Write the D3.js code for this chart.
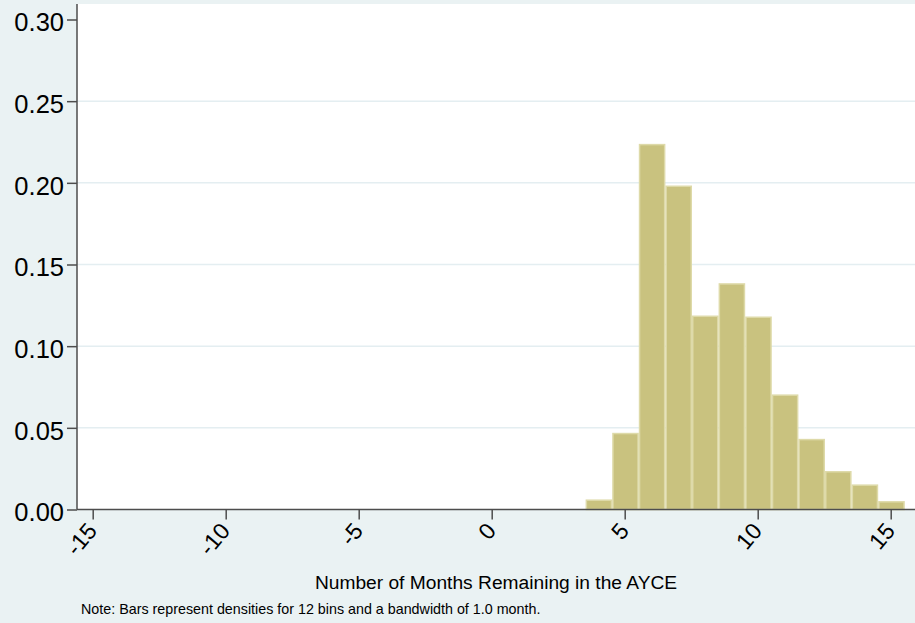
<!DOCTYPE html>
<html>
<head>
<meta charset="utf-8">
<script src="https://cdn.jsdelivr.net/npm/d3@7"></script>
<style>
  html, body { margin: 0; padding: 0; background: #eaf2f3; }
  svg { display: block; font-family: "Liberation Sans", Arial, sans-serif; }
</style>
</head>
<body>
<svg id="chart" width="915" height="623"></svg>
<script>
// ---- data ----
const binStart = 3.53;        // left edge of first bin (months)
const binWidth = 1.0;         // bandwidth (months)
const densities = [0.0057, 0.0465, 0.2234, 0.1979, 0.1183, 0.1381, 0.1177, 0.0700, 0.0428, 0.0231, 0.0149, 0.0047];
const xTicks = [-15, -10, -5, 0, 5, 10, 15];
const yTicks = [0, 0.05, 0.10, 0.15, 0.20, 0.25, 0.30];
const xTitle = "Number of Months Remaining in the AYCE";
const note = "Note: Bars represent densities for 12 bins and a bandwidth of 1.0 month.";

const bins = densities.map((d, i) => ({ x0: binStart + i * binWidth, x1: binStart + (i + 1) * binWidth, v: d }));

// ---- layout ----
const W = 915, H = 623;
const plot = { left: 77, top: 4, right: 915, bottom: 509.5 };

const svg = d3.select("#chart");
svg.append("rect").attr("width", W).attr("height", H).attr("fill", "#eaf2f3");
svg.append("rect")
  .attr("x", plot.left).attr("y", plot.top)
  .attr("width", plot.right - plot.left).attr("height", plot.bottom - plot.top)
  .attr("fill", "#ffffff");

const x = d3.scaleLinear().domain([-15, 15]).range([92.7, 890.7]);
const y = d3.scaleLinear().domain([0, 0.30]).range([plot.bottom, 19.5]);

// gridlines
svg.append("g").selectAll("line")
  .data(yTicks.filter(t => t > 0 && t < 0.30))
  .join("line")
  .attr("x1", plot.left).attr("x2", plot.right)
  .attr("y1", d => y(d)).attr("y2", d => y(d))
  .attr("stroke", "#e4eef1").attr("stroke-width", 1.5);

// bars
svg.append("g").selectAll("rect")
  .data(bins)
  .join("rect")
  .attr("x", d => x(d.x0) + 0.75)
  .attr("width", d => x(d.x1) - x(d.x0) - 1.5)
  .attr("y", d => y(d.v))
  .attr("height", d => plot.bottom - y(d.v))
  .attr("fill", "#c9c27f")
  .attr("stroke", "#dedaa9")
  .attr("stroke-width", 1.5);

// y axis
const yAxis = d3.axisLeft(y).tickValues(yTicks).tickFormat(d3.format(".2f")).tickSize(10).tickSizeOuter(0);
const gy = svg.append("g").attr("transform", `translate(${plot.left},0)`).call(yAxis);
gy.select(".domain").attr("d", `M0,${plot.top}V${plot.bottom}`).attr("stroke", "#4d4d4d").attr("stroke-width", 1.5);
gy.selectAll(".tick line").attr("stroke", "#4d4d4d").attr("stroke-width", 1.5);
gy.selectAll(".tick text")
  .attr("x", -13).attr("dy", "0.45em")
  .attr("font-size", 25.5).attr("fill", "#000")
  .attr("font-family", "Liberation Sans, Arial, sans-serif");

// x axis
const xAxis = d3.axisBottom(x).tickValues(xTicks).tickFormat(d => d).tickSize(10).tickSizeOuter(0);
const gx = svg.append("g").attr("transform", `translate(0,${plot.bottom})`).call(xAxis);
gx.select(".domain").attr("d", `M${plot.left},0H${plot.right}`).attr("stroke", "#4d4d4d").attr("stroke-width", 1.5);
gx.selectAll(".tick line").attr("stroke", "#4d4d4d").attr("stroke-width", 1.5);
gx.selectAll(".tick text")
  .attr("y", 0).attr("dy", 0)
  .attr("text-anchor", "end")
  .attr("transform", "translate(5,22) rotate(-50)")
  .attr("font-size", 23).attr("fill", "#000")
  .attr("font-family", "Liberation Sans, Arial, sans-serif");

// axis title
svg.append("text")
  .attr("x", 496).attr("y", 589)
  .attr("text-anchor", "middle")
  .attr("font-size", 19.2).attr("fill", "#000")
  .text(xTitle);

// note
svg.append("text")
  .attr("x", 81).attr("y", 614)
  .attr("font-size", 14.3).attr("fill", "#000")
  .text(note);
</script>
</body>
</html>
